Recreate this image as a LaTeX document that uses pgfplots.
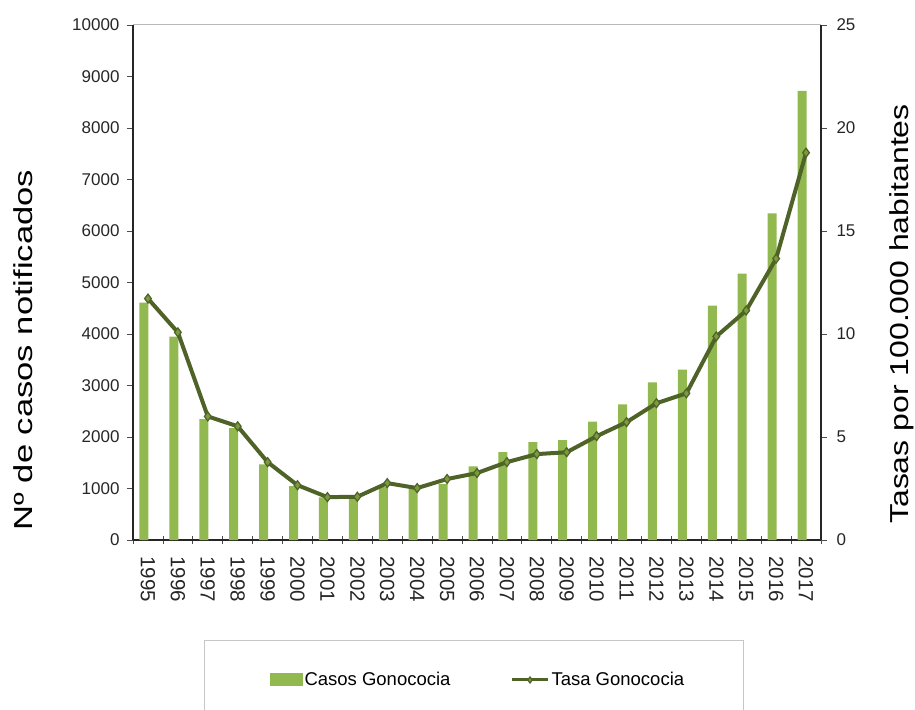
\documentclass[border=0pt]{standalone}
\usepackage{pgfplots}
\pgfplotsset{compat=1.18}
\usepackage{fontspec}
\setmainfont{Liberation Sans}
\definecolor{barc}{HTML}{92B94F}
\definecolor{linec}{HTML}{4F6228}
\definecolor{markc}{HTML}{7A9A40}
\begin{document}
\begin{tikzpicture}
\begin{axis}[
  at={(0pt,0pt)}, anchor=south west,
  scale only axis, width=688pt, height=515pt,
  xmin=-0.5, xmax=22.5, ymin=0, ymax=10000,
  axis x line*=bottom, axis y line*=left,
  axis line style={line width=1.2pt, black!85, -},
  ybar, bar width=9pt, bar shift=-4pt,
  xtick={0,...,22},
  xticklabels={1995,1996,1997,1998,1999,2000,2001,2002,2003,2004,2005,2006,2007,2008,2009,2010,2011,2012,2013,2014,2015,2016,2017},
  major x tick style={draw=none},
  minor xtick={-0.5,0.5,...,22.5},
  minor tick length=9pt,
  minor x tick style={line width=0.8pt, black!70},
  xtick align=center,
  xticklabel style={yshift=-10pt, rotate=-90, anchor=west, font=\fontsize{20.5}{22}\selectfont, text=black!85},
  ytick={0,1000,...,10000},
  scaled y ticks=false,
  /pgf/number format/assume math mode=true,
  yticklabel style={/pgf/number format/1000 sep={}, font=\fontsize{17}{19}\selectfont, text=black!85, xshift=-4pt},
  y tick style={line width=0.8pt, black!70},
  ytick align=outside, major tick length=6pt,
]
\addplot[fill=barc, draw=none] coordinates {
(0,4610) (1,3950) (2,2345) (3,2170) (4,1470) (5,1045) (6,830) (7,830) (8,1030) (9,1000) (10,1085) (11,1430)
(12,1705) (13,1900) (14,1940) (15,2300) (16,2635) (17,3060) (18,3310) (19,4550) (20,5170) (21,6340) (22,8720)
};
\draw[gray!55, line width=1pt] (rel axis cs:0,1) -- (rel axis cs:1,1);
\end{axis}
\begin{axis}[
  at={(0pt,0pt)}, anchor=south west,
  scale only axis, width=688pt, height=515pt,
  xmin=-0.5, xmax=22.5, ymin=0, ymax=25,
  axis y line*=right, axis x line=none,
  axis line style={line width=1.2pt, black!85, -},
  ytick={0,5,...,25},
  /pgf/number format/assume math mode=true,
  yticklabel style={font=\fontsize{17}{19}\selectfont, text=black!85, xshift=6pt},
  y tick style={line width=0.8pt, black!70},
  ytick align=outside, major tick length=6pt,
  legend columns=2,
  legend style={at={(axis description cs:0.1032,-0.1942)}, anchor=north west,
    draw=gray!45, line width=1pt, inner xsep=57pt, inner ysep=30pt,
    font=\fontsize{18.5}{22}\selectfont,
    /tikz/every even column/.append style={column sep=58pt}},
  legend cell align=left,
]
\addlegendimage{legend image code/.code={\path (0pt,0pt); \fill[barc] (8pt,-6pt) rectangle (40pt,6pt);}}
\addlegendentry{Casos Gonococia}
\addplot[linec, line width=4pt, mark=diamond*, mark size=4.5pt,
  mark options={fill=markc, draw=linec, line width=1.2pt},
  legend image code/.code={\draw[mark repeat=2,mark phase=2, line width=3pt, mark size=3pt] plot coordinates {(0pt,0pt) (18pt,0pt) (36pt,0pt)};}]
 coordinates {
(0,11.72) (1,10.08) (2,6.0) (3,5.52) (4,3.78) (5,2.66) (6,2.08) (7,2.1) (8,2.76) (9,2.52) (10,2.96) (11,3.25)
(12,3.78) (13,4.17) (14,4.26) (15,5.04) (16,5.72) (17,6.64) (18,7.12) (19,9.88) (20,11.14) (21,13.66) (22,18.8)
};
\addlegendentry{Tasa Gonococia}
\end{axis}
\node[rotate=90] at (-110pt,190pt) {\scalebox{1.33}[1]{\fontsize{26}{30}\selectfont Nº de casos notificados}};
\node[rotate=90] at (769pt,226pt) {\scalebox{1.23}[1]{\fontsize{26}{30}\selectfont Tasas por 100.000 habitantes}};
\pgfresetboundingbox
\path[use as bounding box] (-133pt,-169pt) rectangle (782pt,540pt);
\end{tikzpicture}
\end{document}
